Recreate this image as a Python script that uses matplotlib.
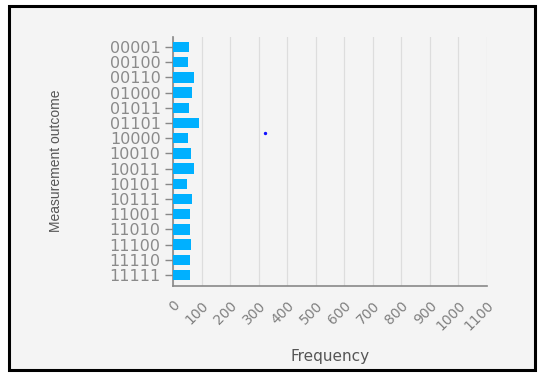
import matplotlib
matplotlib.use("Agg")
import matplotlib.pyplot as plt
from matplotlib.patches import Rectangle

outcomes = ["00001", "00100", "00110", "01000", "01011", "01101", "10000", "10010",
            "10011", "10101", "10111", "11001", "11010", "11100", "11110", "11111"]
counts = [56, 52, 72, 66, 57, 90, 54, 64, 74, 50, 66, 61, 58, 62, 60, 58]
xticks = list(range(0, 1101, 100))
dot_x = [322]
dot_y = [5.65]

W, H = 550, 381
fig = plt.figure(figsize=(W / 100, H / 100), dpi=100)
fig.patch.set_facecolor("white")

# outer panel with black frame
fig.patches.append(Rectangle((9 / W, 1 - 370 / H), (535 - 9) / W, (370 - 6) / H,
                             transform=fig.transFigure, facecolor="#f4f4f4",
                             edgecolor="black", linewidth=2.2, zorder=-10))

ax = fig.add_axes([173 / W, 1 - 286 / H, (487 - 173) / W, (286 - 37) / H])
ax.set_zorder(5)
ax.set_facecolor("#f4f4f4")

y = list(range(len(outcomes)))
ax.barh(y, counts, height=0.68, color="#00b0ff", zorder=3)
ax.scatter(dot_x, dot_y, s=2, color="#1010ff", zorder=4)

ax.set_xlim(0, 1100)
ax.set_ylim(len(outcomes) - 1 + 0.72, -0.66)
ax.set_xticks(xticks)
ax.set_xticklabels([str(t) for t in xticks], rotation=45, ha="right", va="top",
                   rotation_mode="anchor", fontsize=10, color="#808080")
ax.set_yticks(y)
ax.set_yticklabels(outcomes, fontsize=11.5, color="#8a8a8a")
ax.grid(axis="x", color="#dddddd", linewidth=0.9, zorder=0)
ax.tick_params(axis="y", length=6, width=1, color="#888888", pad=3)
ax.tick_params(axis="x", length=0, pad=9)

for s in ["top", "right"]:
    ax.spines[s].set_visible(False)
for s in ["left", "bottom"]:
    ax.spines[s].set_color("#888888")
    ax.spines[s].set_linewidth(1.2)

fig.text(330 / W, 1 - 356 / H, "Frequency", ha="center", va="center",
         fontsize=11, color="#555555", zorder=6)
fig.text(56 / W, 1 - 161 / H, "Measurement outcome", ha="center", va="center",
         rotation=90, fontsize=10, color="#555555", family="Liberation Sans", zorder=6)

fig.savefig("out.png", dpi=100, facecolor="white")
